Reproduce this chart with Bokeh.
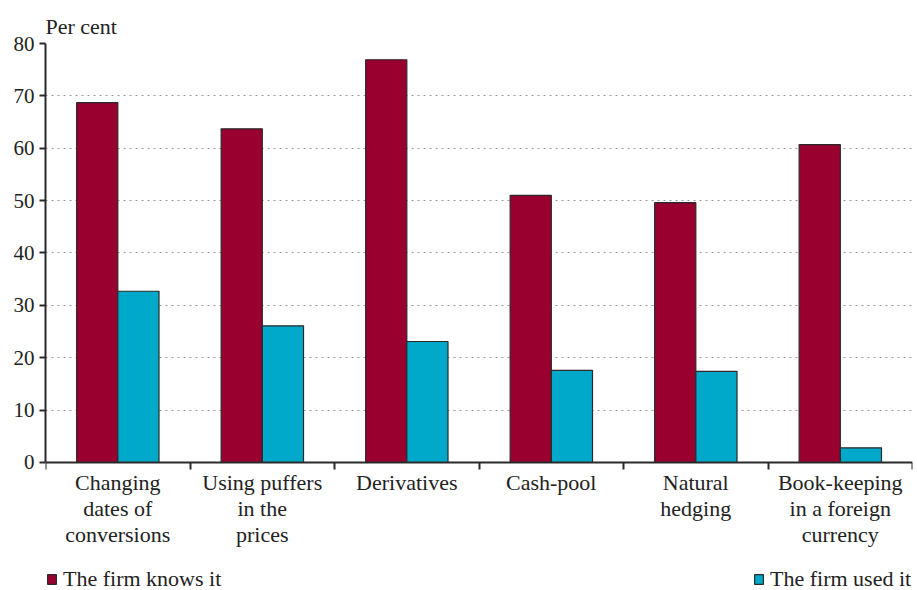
from bokeh.plotting import figure
from bokeh.models import ColumnDataSource, FixedTicker, Legend, LegendItem
from bokeh.embed import file_html
from bokeh.resources import INLINE

categories = ["Changing\ndates of\nconversions", "Using puffers\nin the\nprices", "Derivatives",
              "Cash-pool", "Natural\nhedging", "Book-keeping\nin a foreign\ncurrency"]
knows = [68.7, 63.7, 76.9, 51.0, 49.6, 60.7]
used = [32.7, 26.1, 23.1, 17.6, 17.4, 2.8]
y_ticks = [0, 10, 20, 30, 40, 50, 60, 70, 80]
series_names = ["The firm knows it", "The firm used it"]

RED = "#990030"
BLUE = "#00a9c9"
EDGE = "#2a2a2a"
FONT = "Liberation Serif"
TXT = "#222222"

idx = list(range(len(categories)))
src = ColumnDataSource(dict(
    xr=[i + 0.358 for i in idx],
    xb=[i + 0.643 for i in idx],
    knows=knows, used=used,
))

# frame runs from the 80 line down to the bottom of the picture; the x axis sits at y=0
p = figure(frame_width=867, frame_height=547, x_range=(0, len(categories)), y_range=(-24.44, 80),
           output_backend="svg", toolbar_location=None,
           min_border_left=45, min_border_right=5, min_border_top=43, min_border_bottom=0,
           title="Per cent")
p.outline_line_color = None
p.background_fill_color = "white"
p.title.text_font = FONT
p.title.text_font_size = "22px"
p.title.text_font_style = "normal"
p.title.text_color = TXT
p.title.align = "left"
p.title.standoff = 9

r1 = p.vbar(x="xr", top="knows", width=0.285, source=src, fill_color=RED, line_color=EDGE, line_width=1.2)
r2 = p.vbar(x="xb", top="used", width=0.285, source=src, fill_color=BLUE, line_color=EDGE, line_width=1.2)

# x axis
p.xaxis.fixed_location = 0
p.xaxis.ticker = FixedTicker(ticks=[i + 0.5 for i in idx], minor_ticks=list(range(len(categories) + 1)))
p.xaxis.major_label_overrides = {i + 0.5: c for i, c in zip(idx, categories)}
p.xaxis.major_tick_line_color = None
p.xaxis.minor_tick_out = 7
p.xaxis.minor_tick_in = 0
p.xaxis.minor_tick_line_width = 2
p.xaxis.minor_tick_line_color = EDGE
p.xaxis.axis_line_width = 2
p.xaxis.axis_line_color = EDGE
p.xaxis.major_label_text_font = FONT
p.xaxis.major_label_text_font_size = "22px"
p.xaxis.major_label_text_color = TXT
p.xaxis.major_label_text_line_height = 1.03
p.xaxis.major_label_standoff = 1

# y axis
p.yaxis.ticker = FixedTicker(ticks=y_ticks)
p.yaxis.bounds = (y_ticks[0], y_ticks[-1])
p.yaxis.major_tick_out = 6
p.yaxis.major_tick_in = 0
p.yaxis.major_tick_line_width = 2
p.yaxis.major_tick_line_color = EDGE
p.yaxis.minor_tick_line_color = None
p.yaxis.axis_line_width = 2
p.yaxis.axis_line_color = EDGE
p.yaxis.major_label_text_font = FONT
p.yaxis.major_label_text_font_size = "21px"
p.yaxis.major_label_text_color = TXT
p.yaxis.major_label_standoff = 5

p.xgrid.grid_line_color = None
p.ygrid.ticker = FixedTicker(ticks=y_ticks[1:])
p.ygrid.grid_line_color = "#999999"
p.ygrid.grid_line_dash = "2 4"
p.ygrid.grid_line_width = 1.2

for r, name, loc in [(r1, series_names[0], (1, -2)), (r2, series_names[1], (708, -2))]:
    lg = Legend(items=[LegendItem(label=name, renderers=[r])], location=loc,
                label_text_font=FONT, label_text_font_size="22px", label_text_color=TXT,
                glyph_width=11, glyph_height=12, label_standoff=6, padding=0, margin=0,
                border_line_color=None, background_fill_alpha=0, label_height=22)
    p.add_layout(lg, "center")

open("out.html", "w").write(file_html(p, INLINE))
